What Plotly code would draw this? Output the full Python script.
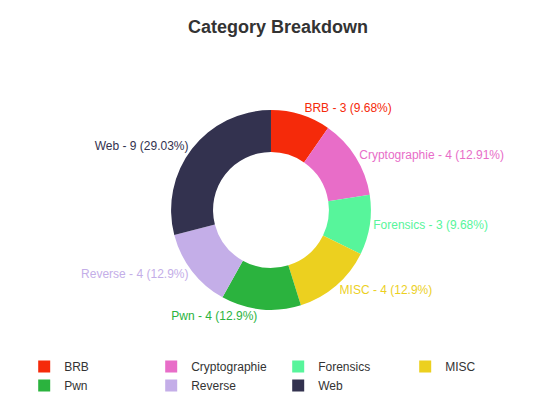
import plotly.graph_objects as go

categories = ["BRB", "Cryptographie", "Forensics", "MISC", "Pwn", "Reverse", "Web"]
counts = [3, 4, 3, 4, 4, 4, 9]
pct_labels = ["9.68%", "12.91%", "9.68%", "12.9%", "12.9%", "12.9%", "29.03%"]
colors = ["#f52a0a", "#e86dc8", "#57f59b", "#ecd01f", "#2bb33e", "#c4aee8", "#33324f"]

texts = [f"{c} - {n} ({p})" for c, n, p in zip(categories, counts, pct_labels)]

fig = go.Figure(go.Pie(
    labels=categories, values=counts, text=texts,
    textinfo="text", textposition="outside",
    textfont=dict(color=colors, size=12),
    marker=dict(colors=colors, line=dict(width=0)),
    hole=0.58, sort=False, direction="clockwise", rotation=0,
    domain=dict(x=[0.302, 0.672], y=[0.245, 0.745]),
))
fig.update_layout(
    width=540, height=400,
    margin=dict(l=0, r=0, t=0, b=0),
    paper_bgcolor="white",
    font=dict(family="Helvetica, Arial, sans-serif", color="#333"),
    title=dict(text="<b>Category Breakdown</b>", x=0.5, y=0.97, xanchor="center",
               font=dict(size=18, color="#333")),
    legend=dict(orientation="h", x=0.03, y=0.14, xanchor="left", yanchor="top",
                itemwidth=30, entrywidthmode="pixels", entrywidth=82,
                font=dict(size=12, color="#333")),
)
fig.write_html("out.html")
